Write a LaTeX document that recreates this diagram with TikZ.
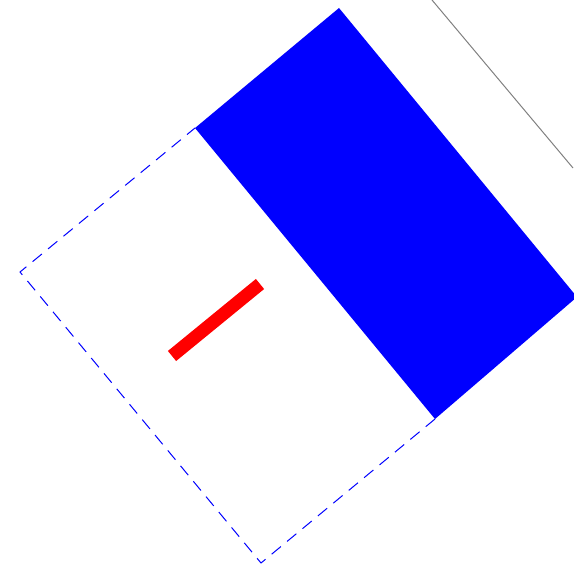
\documentclass[tikz,border=0pt]{standalone}
\begin{document}
\begin{tikzpicture}[x=1pt,y=-1pt,
  outline/.style={draw=blue,line width=1pt,dash pattern=on 12pt off 8pt},
  slab/.style={fill=blue,draw=none},
  guide/.style={draw=gray,line width=1pt},
  bar/.style={draw=red,line width=13pt,line cap=butt}]
\useasboundingbox (0,0) rectangle (573,585);
\coordinate (L) at (20,272);
\coordinate (T) at (195,128);
\coordinate (R) at (435,419);
\coordinate (B) at (261,563);
\coordinate (BT) at (339,8);
\coordinate (BR) at (577,297);
\coordinate (G1) at (432,0);
\coordinate (G2) at (573,168);
\coordinate (S1) at (172,356);
\coordinate (S2) at (260,284);
\fill[slab] (T) -- (BT) -- (BR) -- (R) -- cycle;
\draw[outline] (R) -- (B) -- (L) -- (T);
\draw[guide] (G1) -- (G2);
\draw[bar] (S1) -- (S2);
\end{tikzpicture}
\end{document}
